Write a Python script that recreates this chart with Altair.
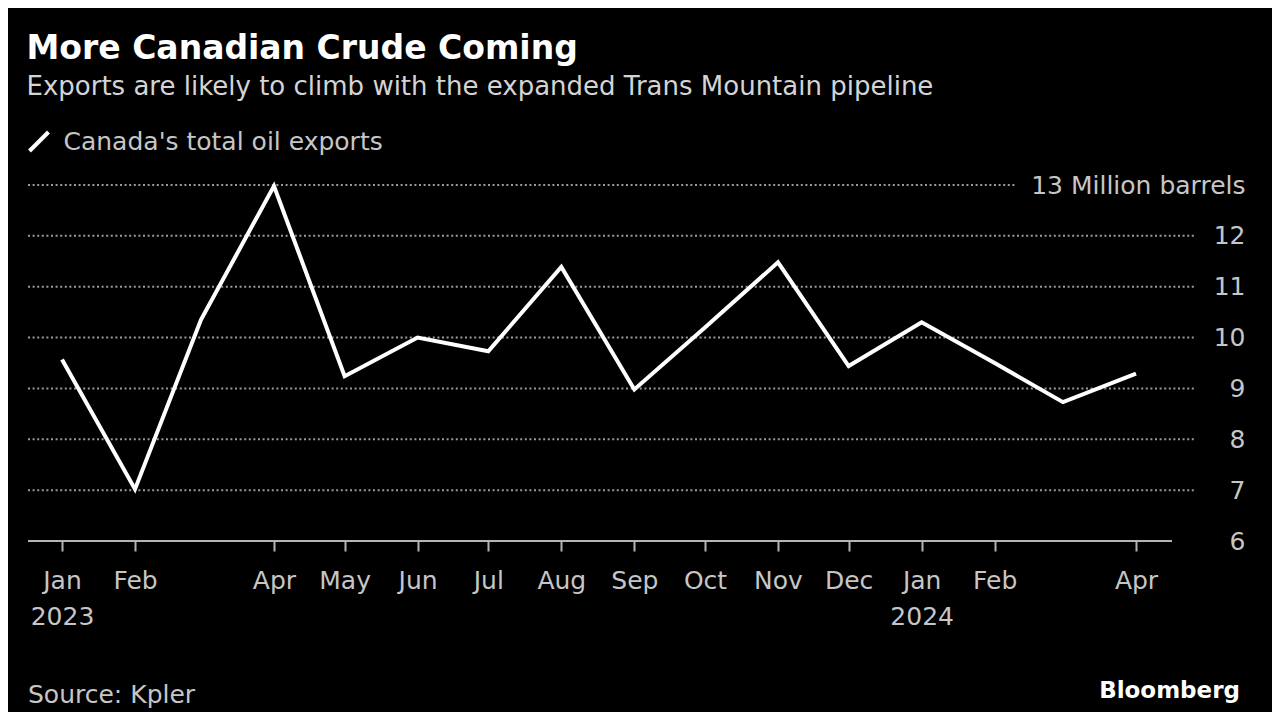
import altair as alt
import pandas as pd
from datetime import datetime, timezone

# ---------------- data ----------------
months = ["2023-01-01", "2023-02-01", "2023-03-01", "2023-04-01", "2023-05-01",
          "2023-06-01", "2023-07-01", "2023-08-01", "2023-09-01", "2023-10-01",
          "2023-11-01", "2023-12-01", "2024-01-01", "2024-02-01", "2024-03-01",
          "2024-04-01"]
exports = [9.57, 7.02, 10.35, 12.98, 9.24, 10.0, 9.73, 11.39, 8.98, 10.2,
           11.48, 9.44, 10.3, 9.5, 8.73, 9.29]
series_name = "Canada's total oil exports"
tick_months = ["2023-01-01", "2023-02-01", "2023-04-01", "2023-05-01", "2023-06-01",
               "2023-07-01", "2023-08-01", "2023-09-01", "2023-10-01", "2023-11-01",
               "2023-12-01", "2024-01-01", "2024-02-01", "2024-04-01"]
y_ticks = [6, 7, 8, 9, 10, 11, 12, 13]

title = "More Canadian Crude Coming"
subtitle = "Exports are likely to climb with the expanded Trans Mountain pipeline"
source = "Source: Kpler"
brand = "Bloomberg"

# ---------------- layout helpers ----------------
def ms(s):
    return int(datetime.fromisoformat(s).replace(tzinfo=timezone.utc).timestamp() * 1000)

W, H = 1217, 356
t0, t1 = ms("2023-01-01"), ms("2024-04-01")
ms_per_px = (t1 - t0) / 1074.0
def px_to_ms(page_x):
    # page x of Jan 2023 tick is 62, plot origin is page x 28
    return t0 + (page_x - 62) * ms_per_px

dom = [px_to_ms(28), px_to_ms(1245)]

df = pd.DataFrame({"month": months, "value": exports, "series": series_name})

grid_df = pd.DataFrame({
    "v": [7, 8, 9, 10, 11, 12, 13],
    "x0": [dom[0]] * 7,
    "x1": [px_to_ms(1195)] * 6 + [px_to_ms(1015)],
})
axis_df = pd.DataFrame({"v": [6], "x0": [dom[0]], "x1": [px_to_ms(1172)]})

xscale = alt.Scale(type="utc", domain=dom)
yscale = alt.Scale(domain=[6, 13], nice=False, zero=False)

LABEL = "#c6c6c6"
FONT = "DejaVu Sans"

x_axis = alt.Axis(values=[ms(m) for m in tick_months], domain=False, grid=False,
                  tickColor="#b4b4b4", tickWidth=2, tickSize=10,
                  labelPadding=17, labelFont=FONT, labelFontSize=25,
                  labelColor=LABEL, labelLineHeight=36, labelFlush=False,
                  labelOverlap=False, title=None,
                  labelExpr="utcFormat(datum.value, '%m') == '01' ? [utcFormat(datum.value, '%b'), utcFormat(datum.value, '%Y')] : utcFormat(datum.value, '%b')")
y_axis = alt.Axis(orient="right", values=y_ticks, domain=False, grid=False,
                  ticks=False, labelPadding=0, labelAlign="right",
                  labelFont=FONT, labelFontSize=25, labelColor=LABEL,
                  labelFlush=False, labelOverlap=False, labelLimit=600, title=None,
                  labelExpr="datum.value == 13 ? '13 Million barrels' : (datum.value < 10 ? datum.label + '\u2007' : datum.label)")

grid = alt.Chart(grid_df).mark_rule(color="#9a9a9a", strokeWidth=2, strokeDash=[2, 2.6]).encode(
    x=alt.X("x0:T", scale=xscale, axis=x_axis),
    x2="x1:T",
    y=alt.Y("v:Q", scale=yscale, axis=y_axis),
)

axis_line = alt.Chart(axis_df).mark_rule(color="#b4b4b4", strokeWidth=2).encode(
    x=alt.X("x0:T", scale=xscale, axis=x_axis),
    x2="x1:T",
    y=alt.Y("v:Q", scale=yscale, axis=y_axis),
)

line = alt.Chart(df).mark_line(strokeWidth=4, strokeJoin="miter").encode(
    x=alt.X("month:T", scale=xscale, axis=x_axis),
    y=alt.Y("value:Q", scale=yscale, axis=y_axis),
    color=alt.Color("series:N", scale=alt.Scale(domain=[series_name], range=["#ffffff"]),
                    legend=alt.Legend(title=None, orient="none", legendX=-1.5, legendY=-56,
                                      symbolType="M-1,1L1,-1", symbolSize=361,
                                      symbolStrokeWidth=4, labelFont=FONT,
                                      labelFontSize=25, labelColor=LABEL,
                                      labelOffset=12, labelLimit=600, padding=0)),
)

one = pd.DataFrame({"k": [0]})
src = alt.Chart(one).mark_text(align="left", baseline="alphabetic", font=FONT,
                               fontSize=25, color=LABEL).encode(
    x=alt.value(0), y=alt.value(518), text=alt.value(source))
logo = alt.Chart(one).mark_text(align="right", baseline="alphabetic", font=FONT,
                                fontSize=23, fontWeight="bold", color="#ffffff").encode(
    x=alt.value(1212), y=alt.value(513), text=alt.value(brand))

chart = alt.layer(grid, axis_line, line, src, logo).properties(
    width=W, height=H,
    autosize=alt.AutoSizeParams(type="none"),
    padding={"left": 20, "top": 177, "right": 27, "bottom": 171},
    title=alt.Title(text=title, subtitle=subtitle, anchor="start", font=FONT,
                    fontSize=33, fontWeight="bold", color="#ffffff",
                    subtitleFont=FONT, subtitleFontSize=26, subtitleColor="#d4d4d4",
                    subtitlePadding=8, offset=29),
).configure(background="#000000").configure_view(stroke=None)

chart.save("out.html", embed_options={"renderer": "svg", "actions": False})
